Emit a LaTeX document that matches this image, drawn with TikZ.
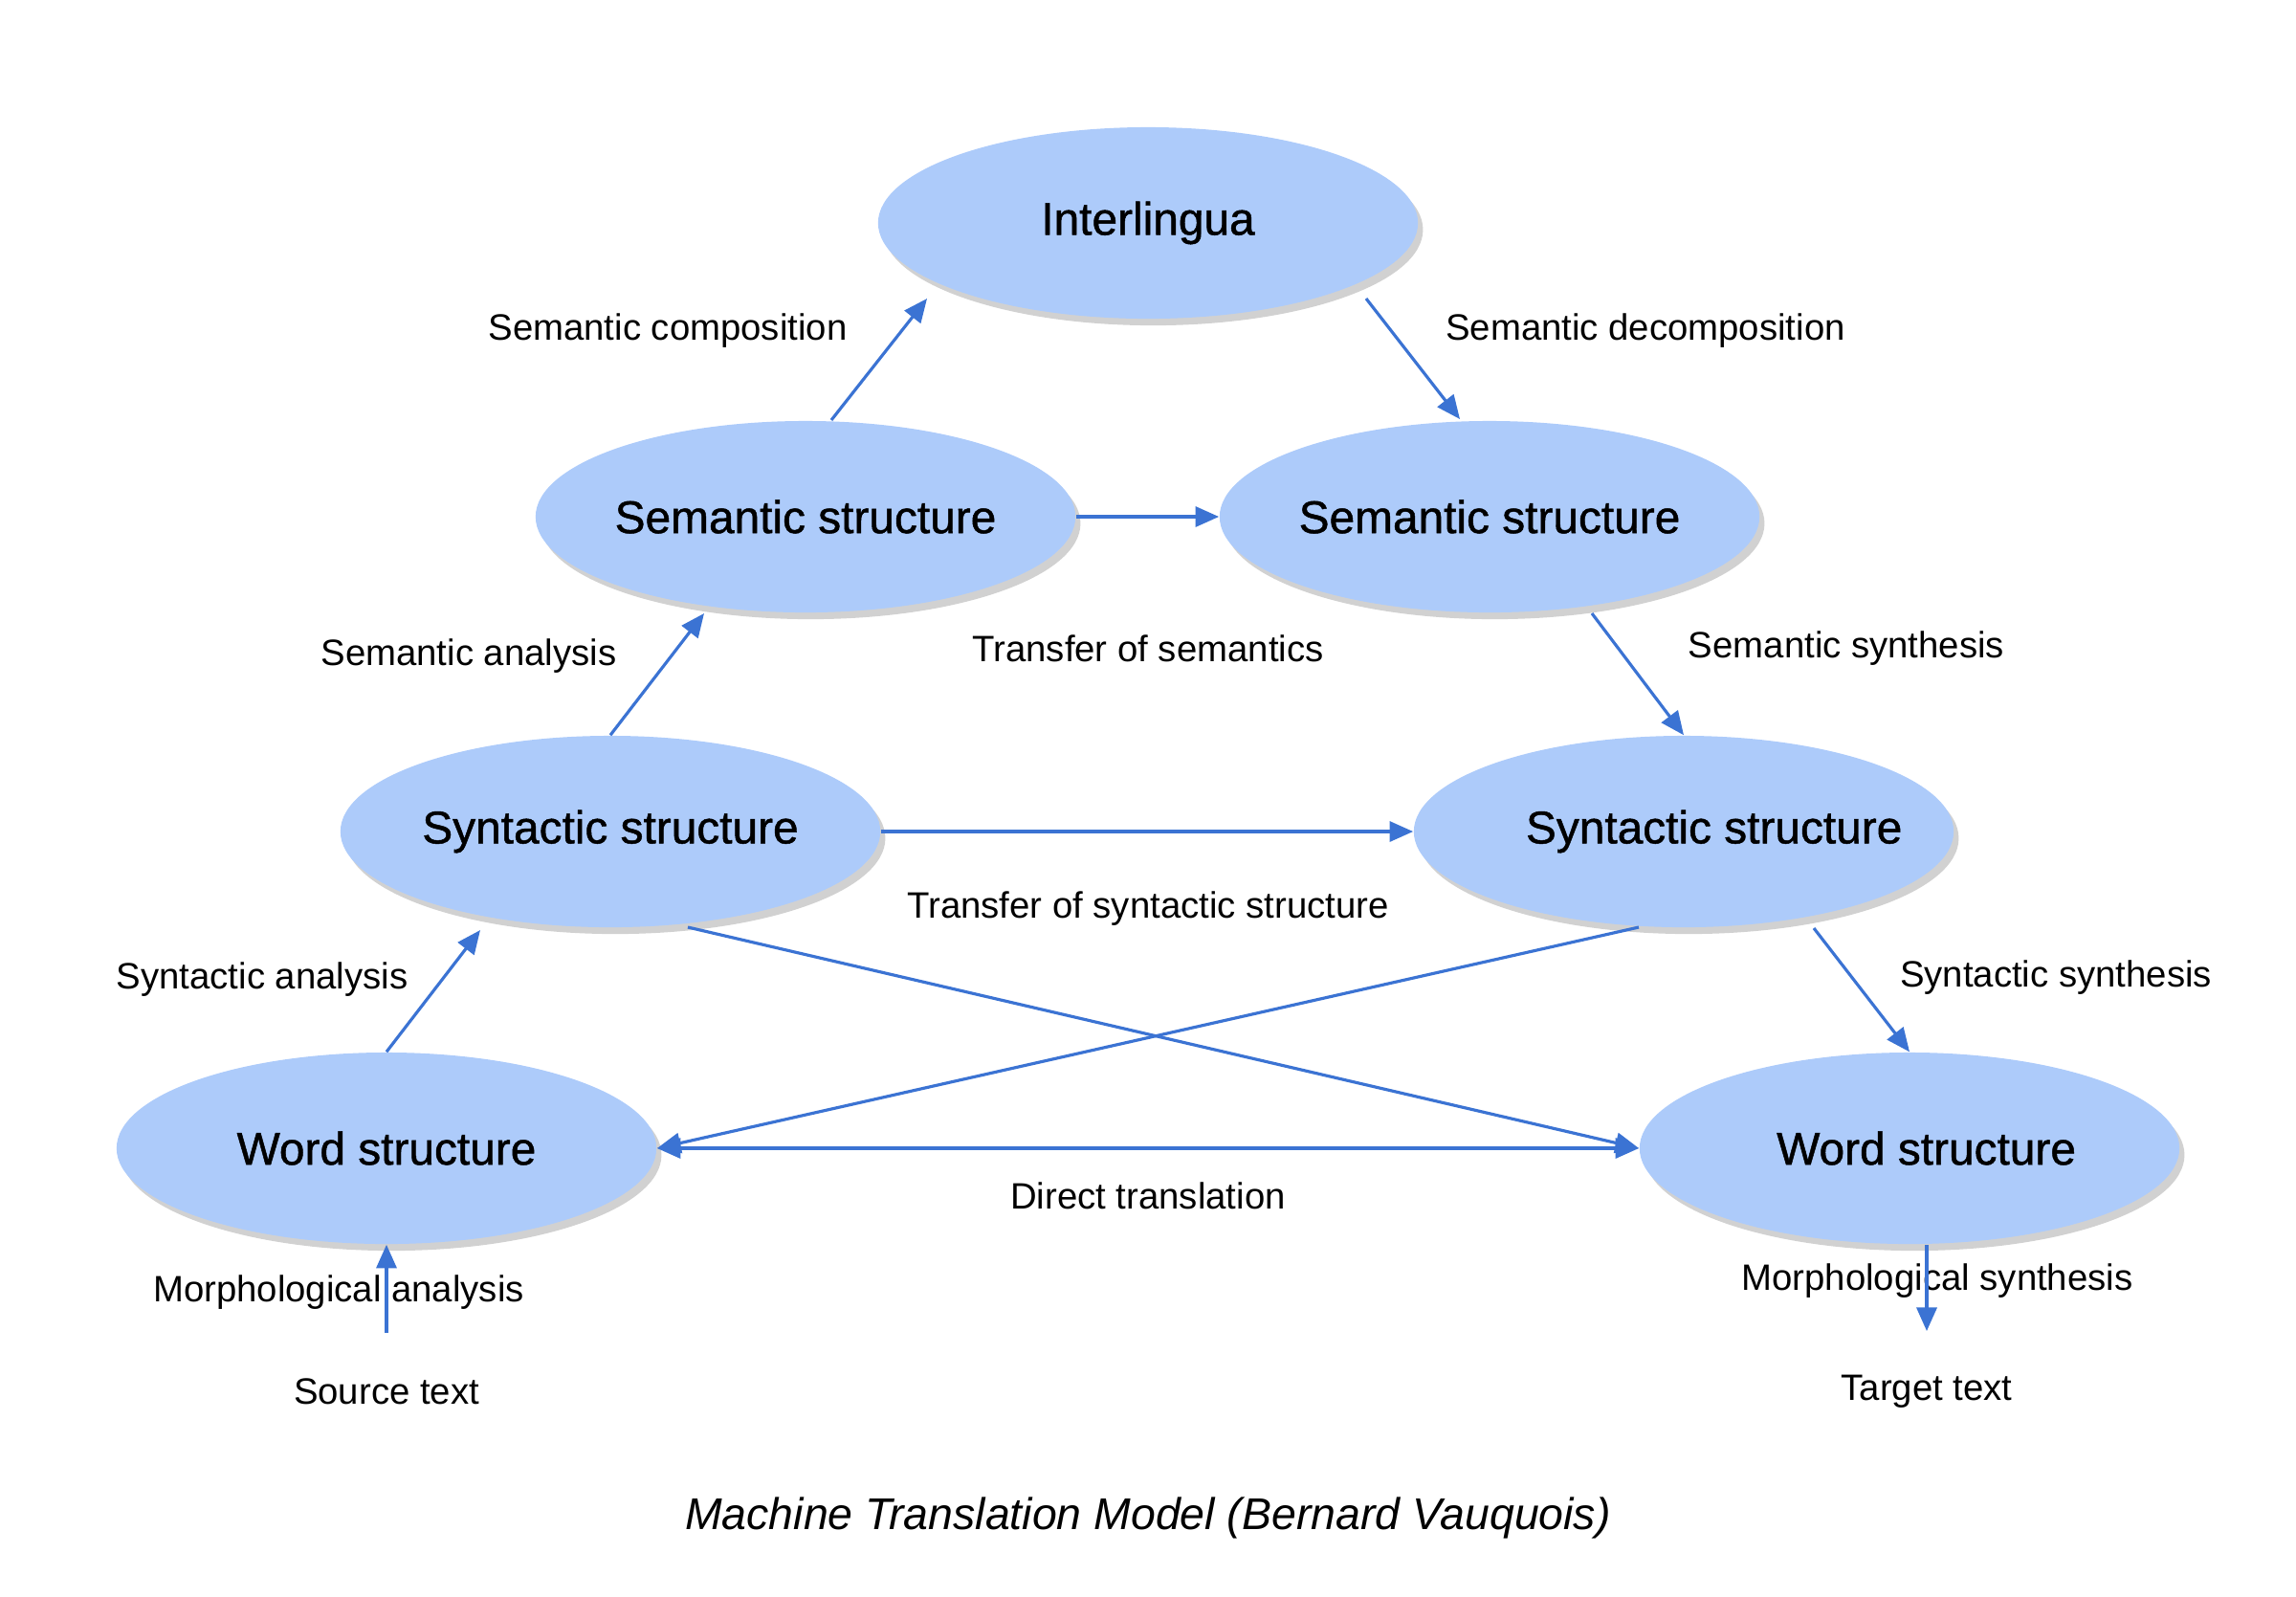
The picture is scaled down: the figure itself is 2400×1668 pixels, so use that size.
\documentclass[tikz,border=0pt]{standalone}
\usepackage{fontspec}
\setmainfont{Liberation Sans}
\newfontfamily\stagefont[FakeBold=1]{Liberation Sans}
\usetikzlibrary{arrows.meta,shapes.geometric,calc,shadows}
\definecolor{stagefill}{HTML}{ADCBFA}
\definecolor{flowblue}{HTML}{3B73D3}
\begin{document}
\begin{tikzpicture}[x=0.01cm,y=-0.01cm,>={Triangle[length=7pt,width=6pt]},
  every node/.style={font=\fontsize{10.9}{13}\selectfont,align=center},
  stage/.style={ellipse,fill=stagefill,minimum width=5.64cm,minimum height=2cm,inner sep=0pt,
    font=\stagefont\fontsize{13.6}{16}\selectfont,
    drop shadow={shadow xshift=1.5pt,shadow yshift=-2pt,fill=black,opacity=0.18}},
  flow/.style={draw=flowblue,line width=0.9pt,->}]
\useasboundingbox (0,0) rectangle (2400,1668);
% stages of the triangle
\node[stage] (inter) at (1200,233) {Interlingua};
\node[stage] (semL) at (842,540) {Semantic structure};
\node[stage] (semR) at (1557,540) {Semantic structure};
\node[stage] (synL) at (638,869) {Syntactic structure};
\node[stage] (synR) at (1760,869) {\makebox[0pt]{\hspace*{18pt}Syntactic structure}};
\node[stage] (wordL) at (404,1200) {Word structure};
\node[stage] (wordR) at (1996,1200) {\makebox[0pt]{\hspace*{10pt}Word structure}};
% labels
\node (lcomp) at (698,346) {Semantic composition};
\node (ldecomp) at (1720,346) {Semantic decomposition};
\node (ltrsem) at (1200,678) {Transfer of semantics};
\node (lsemana) at (490,686) {Semantic analysis};
\node (lsemsyn) at (1930,678) {Semantic synthesis};
\node (ltrsyn) at (1200,950) {Transfer of syntactic structure};
\node (lsynana) at (274,1024) {Syntactic analysis};
\node (lsynsyn) at (2149,1022) {Syntactic synthesis};
\node (ldirect) at (1200,1250) {Direct translation};
\node (lmorana) at (354,1351) {Morphological analysis};
\node (lmorsyn) at (2025,1339) {Morphological synthesis};
\node (src) at (404,1454) {Source text};
\node (tgt) at (2014,1454) {Target text};
\node[font=\fontsize{13.2}{16}\selectfont\itshape] (caption) at (1200,1586) {Machine Translation Model (Bernard Vauquois)};
% connectors
\draw[flow] ($(semL)+(27,-101)$) -- ($(inter)+(-231,79)$);
\draw[flow] ($(inter)+(228,79)$) -- ($(semR)+(-31,-102)$);
\draw[flow] (semL.east) -- (semR.west);
\draw[flow] (synL.north) -- ($(semL)+(-106,101)$);
\draw[flow] ($(semR)+(107,101)$) -- (synR.north);
\draw[flow] (synL.east) -- (synR.west);
\draw[flow] (wordL.north) -- ($(synL)+(-136,103)$);
\draw[flow] ($(synR)+(136,101)$) -- (wordR.north);
\draw[flow] ($(synL)+(81,100)$) -- (wordR.west);
\draw[flow] ($(synR)+(-47,100)$) -- (wordL.east);
\draw[flow,<->] (wordL.east) -- (wordR.west);
\draw[flow] ($(src)+(0,-61)$) -- (wordL.south);
\draw[flow] (wordR.south -| tgt) -- ($(tgt)+(0,-63)$);
\end{tikzpicture}
\end{document}
